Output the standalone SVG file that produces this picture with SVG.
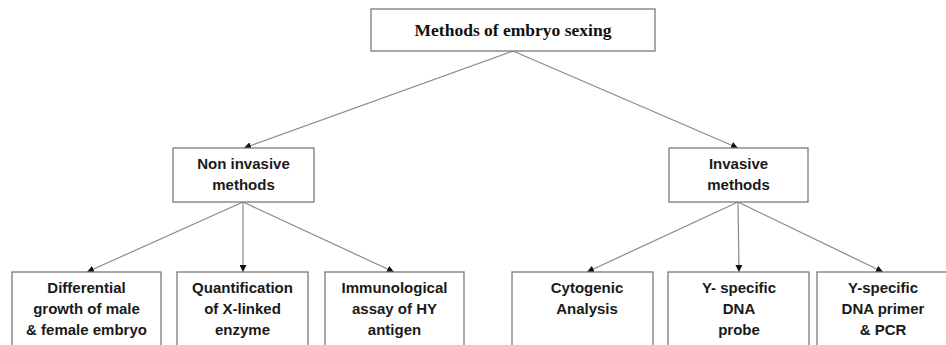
<svg xmlns="http://www.w3.org/2000/svg" width="946" height="345" viewBox="0 0 946 345">
<style>
.box{fill:#fff;stroke:#7a7a7a;stroke-width:1.3}
.t{font-family:"Liberation Sans",Arial,sans-serif;font-weight:bold;font-size:15px;fill:#1a1a1a;text-anchor:middle}
.tt{font-family:"Liberation Serif","Times New Roman",serif;font-weight:bold;font-size:17.5px;fill:#111;text-anchor:middle}
.c{stroke:#8a8a8a;stroke-width:1.2;fill:none;marker-end:url(#ah)}
</style>
<defs>
<marker id="ah" viewBox="0 0 10 10" refX="10" refY="5" markerWidth="7" markerHeight="7" markerUnits="userSpaceOnUse" orient="auto">
<path d="M0,0 L10,5 L0,10 z" fill="#111"/>
</marker>
</defs>
<rect width="946" height="345" fill="#fff"/>
<g id="connectors">
<line class="c" x1="513" y1="51" x2="244" y2="148"/>
<line class="c" x1="513" y1="51" x2="738" y2="148"/>
<line class="c" x1="243" y1="202" x2="87" y2="272"/>
<line class="c" x1="243" y1="202" x2="243" y2="272"/>
<line class="c" x1="243" y1="202" x2="394" y2="272"/>
<line class="c" x1="738" y1="202" x2="587" y2="272"/>
<line class="c" x1="738" y1="202" x2="739" y2="272"/>
<line class="c" x1="738" y1="202" x2="883" y2="272"/>
</g>
<g id="root">
<rect class="box" x="371" y="9" width="284" height="42"/>
<text class="tt" x="513" y="36">Methods of embryo sexing</text>
</g>
<g id="noninvasive">
<rect class="box" x="173" y="148" width="141" height="54"/>
<text class="t" x="243.5" y="169">Non invasive</text>
<text class="t" x="243.5" y="190">methods</text>
</g>
<g id="invasive">
<rect class="box" x="669" y="148" width="139" height="54"/>
<text class="t" x="738.5" y="169">Invasive</text>
<text class="t" x="738.5" y="190">methods</text>
</g>
<g id="differential">
<rect class="box" x="12" y="272" width="149" height="85"/>
<text class="t" x="86.5" y="293">Differential</text>
<text class="t" x="86.5" y="314">growth of male</text>
<text class="t" x="86.5" y="335">&amp; female embryo</text>
</g>
<g id="quantification">
<rect class="box" x="177" y="272" width="131" height="85"/>
<text class="t" x="242.5" y="293">Quantification</text>
<text class="t" x="242.5" y="314">of X-linked</text>
<text class="t" x="242.5" y="335">enzyme</text>
</g>
<g id="immunological">
<rect class="box" x="325" y="272" width="139" height="85"/>
<text class="t" x="394.5" y="293">Immunological</text>
<text class="t" x="394.5" y="314">assay of HY</text>
<text class="t" x="394.5" y="335">antigen</text>
</g>
<g id="cytogenic">
<rect class="box" x="512" y="272" width="141" height="85"/>
<text class="t" x="587" y="293">Cytogenic</text>
<text class="t" x="587" y="314">Analysis</text>
</g>
<g id="yprobe">
<rect class="box" x="668" y="272" width="141" height="85"/>
<text class="t" x="739" y="293">Y- specific</text>
<text class="t" x="739" y="314">DNA</text>
<text class="t" x="739" y="335">probe</text>
</g>
<g id="yprimer">
<rect class="box" x="817" y="272" width="140" height="85"/>
<text class="t" x="883" y="293">Y-specific</text>
<text class="t" x="883" y="314">DNA primer</text>
<text class="t" x="883" y="335">&amp; PCR</text>
</g>
</svg>
